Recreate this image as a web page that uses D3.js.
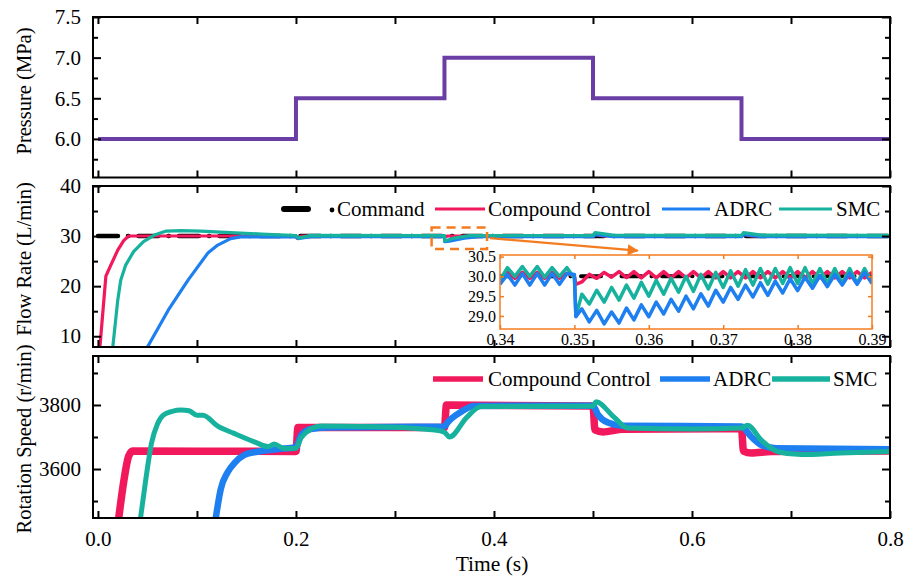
<!DOCTYPE html>
<html>
<head>
<meta charset="utf-8">
<script src="https://cdn.jsdelivr.net/npm/d3@7"></script>
<style>
  body { margin: 0; background: #fff; }
  svg, svg text { font-family: "Liberation Serif", "Times New Roman", serif; }
</style>
</head>
<body>
<div id="root"></div>
<script>
// ---- data ----
const seriesNames = ["Command", "Compound Control", "ADRC", "SMC"];

const pressure = [[0, 6.0], [0.2, 6.5], [0.35, 7.0], [0.5, 6.5], [0.65, 6.0], [0.8, 6.0]];

const flowCommand = [[0, 30], [0.8, 30]];
const flowCompound = [[0.002, 7.85], [0.008, 22], [0.013, 24.2], [0.02, 27.2], [0.026, 29.1], [0.031, 30.02],
  [0.2, 30.02], [0.201, 29.6], [0.206, 30.02], [0.35, 30.02], [0.3502, 29.8], [0.353, 30.02], [0.5, 30.02],
  [0.502, 30.4], [0.51, 30.02], [0.65, 30.02], [0.652, 30.4], [0.66, 30.02], [0.8, 30.02]];
const flowADRC = [[0.05, 7.85], [0.071, 15.2], [0.091, 21.2], [0.111, 26.6], [0.121, 28.2], [0.134, 29.5],
  [0.144, 29.85], [0.2, 29.88], [0.202, 29.5], [0.215, 29.88], [0.35, 29.88], [0.3502, 28.9], [0.355, 29.0],
  [0.37, 29.6], [0.385, 29.88], [0.5, 29.88], [0.503, 30.3], [0.52, 29.88], [0.65, 29.88], [0.653, 30.3],
  [0.67, 29.88], [0.8, 29.88]];
const flowSMC = [[0.015, 7.85], [0.02, 17.2], [0.023, 21.2], [0.028, 24.2], [0.036, 26.9], [0.046, 28.9],
  [0.057, 30.2], [0.069, 31.0], [0.084, 31.1], [0.104, 31.0], [0.134, 30.7], [0.165, 30.4], [0.195, 30.15],
  [0.2, 30.1], [0.203, 29.6], [0.215, 30.15], [0.35, 30.1], [0.3502, 29.0], [0.36, 29.6], [0.375, 30.1],
  [0.5, 30.15], [0.502, 30.7], [0.52, 30.2], [0.65, 30.15], [0.652, 30.7], [0.67, 30.2], [0.8, 30.15]];

// zoomed window 0.34 - 0.39 s
const insetCommand = [[0.34, 30], [0.39, 30]];
const insetCompound = [[0.340, 29.98], [0.341, 30.1], [0.342, 29.95], [0.343, 30.1], [0.344, 29.95], [0.345, 30.1],
  [0.346, 29.95], [0.347, 30.1], [0.348, 29.95], [0.349, 30.08], [0.350, 30.0], [0.3502, 29.8], [0.351, 29.86],
  [0.352, 30.05], [0.353, 29.95], [0.354, 30.1], [0.355, 29.98], [0.356, 30.12], [0.357, 29.97], [0.358, 30.12],
  [0.359, 29.96], [0.360, 30.12], [0.361, 29.96], [0.362, 30.12], [0.363, 29.96], [0.364, 30.12], [0.365, 29.96],
  [0.366, 30.12], [0.367, 29.96], [0.368, 30.12], [0.369, 29.96], [0.370, 30.12], [0.371, 29.96], [0.372, 30.12],
  [0.373, 29.96], [0.374, 30.12], [0.375, 29.96], [0.376, 30.12], [0.377, 29.96], [0.378, 30.12], [0.379, 29.96],
  [0.380, 30.12], [0.381, 29.96], [0.382, 30.12], [0.383, 29.96], [0.384, 30.12], [0.385, 29.96], [0.386, 30.12],
  [0.387, 29.96], [0.388, 30.12], [0.389, 29.96], [0.390, 30.1]];
const insetSMC = [[0.340, 29.9], [0.341, 30.22], [0.342, 30.0], [0.343, 30.25], [0.344, 30.0], [0.345, 30.25],
  [0.346, 29.98], [0.347, 30.22], [0.348, 30.0], [0.349, 30.22], [0.350, 29.95], [0.3502, 29.0], [0.351, 29.55],
  [0.352, 29.3], [0.353, 29.65], [0.354, 29.35], [0.355, 29.72], [0.356, 29.4], [0.357, 29.78], [0.358, 29.45],
  [0.359, 29.85], [0.360, 29.5], [0.361, 29.9], [0.362, 29.55], [0.363, 29.95], [0.364, 29.6], [0.365, 30.0],
  [0.366, 29.62], [0.367, 30.05], [0.368, 29.68], [0.369, 30.1], [0.370, 29.72], [0.371, 30.14], [0.372, 29.75],
  [0.373, 30.17], [0.374, 29.78], [0.375, 30.2], [0.376, 29.8], [0.377, 30.2], [0.378, 29.82], [0.379, 30.22],
  [0.380, 29.82], [0.381, 30.22], [0.382, 29.82], [0.383, 30.2], [0.384, 29.82], [0.385, 30.2], [0.386, 29.82],
  [0.387, 30.2], [0.388, 29.82], [0.389, 30.2], [0.390, 29.85]];
const insetADRC = [[0.340, 29.8], [0.341, 30.05], [0.342, 29.78], [0.343, 30.07], [0.344, 29.78], [0.345, 30.07],
  [0.346, 29.78], [0.347, 30.07], [0.348, 29.8], [0.349, 30.07], [0.350, 30.05], [0.3502, 28.98], [0.351, 29.18],
  [0.352, 28.85], [0.353, 29.14], [0.354, 28.8], [0.355, 29.1], [0.356, 28.82], [0.357, 29.2], [0.358, 28.9],
  [0.359, 29.28], [0.360, 28.98], [0.361, 29.35], [0.362, 29.05], [0.363, 29.42], [0.364, 29.12], [0.365, 29.5],
  [0.366, 29.18], [0.367, 29.56], [0.368, 29.25], [0.369, 29.65], [0.370, 29.35], [0.371, 29.72], [0.372, 29.42],
  [0.373, 29.78], [0.374, 29.48], [0.375, 29.84], [0.376, 29.52], [0.377, 29.88], [0.378, 29.58], [0.379, 29.94],
  [0.380, 29.64], [0.381, 29.98], [0.382, 29.7], [0.383, 30.02], [0.384, 29.74], [0.385, 30.05], [0.386, 29.78],
  [0.387, 30.08], [0.388, 29.8], [0.389, 30.1], [0.390, 29.82]];

const speedCompound = [[0.021, 3447], [0.026, 3560], [0.031, 3640], [0.035, 3656], [0.2, 3655], [0.202, 3730],
  [0.35, 3730], [0.352, 3800], [0.5, 3797], [0.502, 3722], [0.51, 3716], [0.53, 3724], [0.65, 3726],
  [0.652, 3656], [0.66, 3650], [0.68, 3655], [0.8, 3656]];
const speedADRC = [[0.119, 3447], [0.124, 3537], [0.131, 3590], [0.138, 3619], [0.148, 3644], [0.161, 3654],
  [0.181, 3662], [0.2, 3668], [0.205, 3704], [0.215, 3725], [0.23, 3730], [0.35, 3733], [0.353, 3745],
  [0.367, 3779], [0.38, 3797], [0.5, 3798], [0.505, 3770], [0.515, 3745], [0.53, 3735], [0.65, 3733],
  [0.66, 3700], [0.67, 3675], [0.685, 3665], [0.8, 3662]];
const speedSMC = [[0.043, 3447], [0.048, 3560], [0.054, 3680], [0.06, 3740], [0.066, 3768], [0.075, 3780],
  [0.084, 3784], [0.092, 3782], [0.1, 3768], [0.106, 3768], [0.121, 3734], [0.137, 3712], [0.158, 3685],
  [0.172, 3670], [0.178, 3678], [0.188, 3664], [0.2, 3665], [0.205, 3697], [0.225, 3734], [0.28, 3732],
  [0.34, 3722], [0.35, 3715], [0.355, 3700], [0.373, 3763], [0.387, 3795], [0.5, 3797], [0.503, 3810],
  [0.521, 3763], [0.535, 3728], [0.6, 3725], [0.65, 3728], [0.656, 3737], [0.67, 3690], [0.687, 3654],
  [0.71, 3645], [0.75, 3650], [0.8, 3655]];

const xTickLabels = [0.0, 0.2, 0.4, 0.6, 0.8];
const xTicksAll = [0, 0.1, 0.2, 0.3, 0.4, 0.5, 0.6, 0.7, 0.8];
const pressureTicks = [6.0, 6.5, 7.0, 7.5];
const pressureMinor = [5.75, 6.25, 6.75, 7.25];
const flowTicks = [10, 20, 30, 40];
const flowMinor = [15, 25, 35];
const speedTicks = [3600, 3800];
const speedMinor = [3500, 3700, 3900];
const insetXTicks = [0.34, 0.35, 0.36, 0.37, 0.38, 0.39];
const insetYTicks = [29.0, 29.5, 30.0, 30.5];
const zoomBox = { t0: 0.337, t1: 0.393, v0: 27.4, v1: 31.7 };

const colors = { "Command": "#000", "Compound Control": "#f2185c", "ADRC": "#1d7ff0", "SMC": "#17b29e" };
const purple = "#6a3ea4";
const orange = "#f47c20";
const serif = "'Liberation Serif', 'Times New Roman', serif";

// ---- layout ----
const width = 906, height = 577;
const left = 93, right = 890;

const svg = d3.select("#root").append("svg")
  .attr("width", width).attr("height", height)
  .attr("font-family", serif);

const x = d3.scaleLinear().domain([-0.005, 0.8]).range([left, right]);

function styleAxes(sel, tickColor, tickWidth, fontSize) {
  sel.selectAll(".domain").remove();
  sel.selectAll("g").attr("font-family", serif).attr("font-size", fontSize);
  sel.selectAll(".tick line").attr("stroke", tickColor).attr("stroke-width", tickWidth);
  sel.selectAll(".tick text").attr("fill", "#000");
}

function makePanel(id, y, major, minor, fmt, title, titleY) {
  const [bottom, top] = y.range();
  const g = svg.append("g").attr("id", id);

  g.append("clipPath").attr("id", id + "-clip")
    .append("rect").attr("x", left).attr("y", top).attr("width", right - left).attr("height", bottom - top);

  const plot = g.append("g").attr("clip-path", `url(#${id}-clip)`);

  const axes = g.append("g");
  axes.append("g").attr("transform", `translate(0,${bottom})`)
    .call(d3.axisBottom(x).tickValues(xTicksAll).tickSize(-7).tickFormat(""));
  axes.append("g").attr("transform", `translate(0,${top})`)
    .call(d3.axisTop(x).tickValues(xTicksAll).tickSize(-7).tickFormat(""));
  axes.append("g").attr("transform", `translate(${left},0)`)
    .call(d3.axisLeft(y).tickValues(major).tickSize(-8).tickPadding(12).tickFormat(fmt));
  axes.append("g").attr("transform", `translate(${left},0)`)
    .call(d3.axisLeft(y).tickValues(minor).tickSize(-5).tickFormat(""));
  axes.append("g").attr("transform", `translate(${right},0)`)
    .call(d3.axisRight(y).tickValues(major).tickSize(-8).tickFormat(""));
  axes.append("g").attr("transform", `translate(${right},0)`)
    .call(d3.axisRight(y).tickValues(minor).tickSize(-5).tickFormat(""));
  styleAxes(axes, "#000", 2, 21);

  g.append("rect").attr("x", left).attr("y", top).attr("width", right - left).attr("height", bottom - top)
    .attr("fill", "none").attr("stroke", "#000").attr("stroke-width", 2);

  g.append("text")
    .attr("transform", `translate(24,${titleY}) rotate(-90)`)
    .attr("text-anchor", "middle").attr("dy", "0.35em")
    .attr("font-size", 20.5).text(title);

  return { g, plot, axes };
}

function lineFor(xs, ys) {
  return d3.line().x(d => xs(d[0])).y(d => ys(d[1]));
}

// ---- top panel: pressure ----
const yP = d3.scaleLinear().domain([5.525, 7.5]).range([177.5, 17]);
const pP = makePanel("pressure", yP, pressureTicks, pressureMinor, d3.format(".1f"), "Pressure (MPa)", 91);
pP.plot.append("path").datum(pressure)
  .attr("d", lineFor(x, yP).curve(d3.curveStepAfter))
  .attr("fill", "none").attr("stroke", purple).attr("stroke-width", 4);

// ---- middle panel: flow rate ----
const yF = d3.scaleLinear().domain([7.85, 40]).range([347, 186]);
const pF = makePanel("flow", yF, flowTicks, flowMinor, d3.format("d"), "Flow Rate (L/min)", 259);
const lF = lineFor(x, yF);
pF.plot.append("path").datum(flowCommand).attr("d", lF)
  .attr("fill", "none").attr("stroke", "#000").attr("stroke-width", 4.5)
  .attr("stroke-dasharray", "20 10 0.5 10").attr("stroke-linecap", "round");
[["Compound Control", flowCompound], ["ADRC", flowADRC], ["SMC", flowSMC]].forEach(([name, data]) => {
  pF.plot.append("path").datum(data).attr("d", lF)
    .attr("fill", "none").attr("stroke", colors[name]).attr("stroke-width", 3.2)
    .attr("stroke-linejoin", "round");
});

// legend (flow)
const legF = pF.g.append("g").attr("font-size", 21);
legF.append("line").attr("x1", 284).attr("x2", 308).attr("y1", 209).attr("y2", 209)
  .attr("stroke", "#000").attr("stroke-width", 6).attr("stroke-linecap", "round");
legF.append("circle").attr("cx", 332).attr("cy", 210).attr("r", 2.4).attr("fill", "#000");
legF.append("text").attr("x", 337).attr("y", 216).text(seriesNames[0]);
[[435, 485, 488, "Compound Control"], [662, 710, 714, "ADRC"], [779, 832, 836, "SMC"]].forEach(([a, b, t, name]) => {
  legF.append("line").attr("x1", a).attr("x2", b).attr("y1", 209).attr("y2", 209)
    .attr("stroke", colors[name]).attr("stroke-width", 3);
  legF.append("text").attr("x", t).attr("y", 216).text(name);
});

// zoom box + arrow
const xi = d3.scaleLinear().domain([0.34, 0.39]).range([500, 872]);
const yi = d3.scaleLinear().domain([28.67, 30.54]).range([329, 255]);

pF.g.append("rect")
  .attr("x", x(zoomBox.t0)).attr("y", yF(zoomBox.v1))
  .attr("width", x(zoomBox.t1) - x(zoomBox.t0)).attr("height", yF(zoomBox.v0) - yF(zoomBox.v1))
  .attr("fill", "none").attr("stroke", orange).attr("stroke-width", 2.5).attr("stroke-dasharray", "9 6");

svg.append("defs").append("marker").attr("id", "arrow")
  .attr("viewBox", "0 0 10 10").attr("refX", 9).attr("refY", 5)
  .attr("markerWidth", 6).attr("markerHeight", 5).attr("orient", "auto")
  .attr("markerUnits", "strokeWidth")
  .append("path").attr("d", "M0,0 L10,5 L0,10 z").attr("fill", orange);

pF.g.append("line")
  .attr("x1", x(zoomBox.t1) + 3).attr("y1", yF(29.6))
  .attr("x2", xi(0.3585)).attr("y2", yi(30.65))
  .attr("stroke", orange).attr("stroke-width", 2.2).attr("marker-end", "url(#arrow)");

// inset
const inset = svg.append("g").attr("id", "inset");
inset.append("rect").attr("x", 500).attr("y", 255).attr("width", 372).attr("height", 74).attr("fill", "#fff");
inset.append("clipPath").attr("id", "inset-clip")
  .append("rect").attr("x", 500).attr("y", 255).attr("width", 372).attr("height", 74);
const iplot = inset.append("g").attr("clip-path", "url(#inset-clip)");
const lI = lineFor(xi, yi);
iplot.append("path").datum(insetCommand).attr("d", lI)
  .attr("fill", "none").attr("stroke", "#000").attr("stroke-width", 4)
  .attr("stroke-dasharray", "20 10 0.5 10").attr("stroke-linecap", "round");
[["Compound Control", insetCompound], ["SMC", insetSMC], ["ADRC", insetADRC]].forEach(([name, data]) => {
  iplot.append("path").datum(data).attr("d", lI)
    .attr("fill", "none").attr("stroke", colors[name]).attr("stroke-width", 3.5)
    .attr("stroke-linejoin", "round");
});
const iaxes = inset.append("g");
iaxes.append("g").attr("transform", "translate(0,329)")
  .call(d3.axisBottom(xi).tickValues(insetXTicks).tickSize(-4).tickPadding(5).tickFormat(d3.format(".2f")));
iaxes.append("g").attr("transform", "translate(0,255)")
  .call(d3.axisTop(xi).tickValues(insetXTicks).tickSize(-4).tickFormat(""));
iaxes.append("g").attr("transform", "translate(500,0)")
  .call(d3.axisLeft(yi).tickValues(insetYTicks).tickSize(-4).tickPadding(4).tickFormat(d3.format(".1f")));
iaxes.append("g").attr("transform", "translate(872,0)")
  .call(d3.axisRight(yi).tickValues(insetYTicks).tickSize(-4).tickFormat(""));
styleAxes(iaxes, orange, 1.5, 16);
inset.append("rect").attr("x", 500).attr("y", 255).attr("width", 372).attr("height", 74)
  .attr("fill", "none").attr("stroke", orange).attr("stroke-width", 1.5);

// ---- bottom panel: rotation speed ----
const yS = d3.scaleLinear().domain([3447, 3953]).range([518, 356]);
const pS = makePanel("speed", yS, speedTicks, speedMinor, d3.format("d"), "Rotation Speed (r/min)", 439);
const lS = lineFor(x, yS).curve(d3.curveMonotoneX);
[["Compound Control", speedCompound, 7.5], ["ADRC", speedADRC, 6.5], ["SMC", speedSMC, 5]].forEach(([name, data, w]) => {
  pS.plot.append("path").datum(data).attr("d", lS)
    .attr("fill", "none").attr("stroke", colors[name]).attr("stroke-width", w)
    .attr("stroke-linejoin", "round");
});

// x tick labels + title
const xLab = pS.axes.append("g").attr("transform", "translate(0,518)")
  .call(d3.axisBottom(x).tickValues(xTickLabels).tickSize(0).tickPadding(13).tickFormat(d3.format(".1f")));
styleAxes(xLab, "#000", 0, 21);

svg.append("text").attr("x", 492).attr("y", 571).attr("text-anchor", "middle")
  .attr("font-size", 21.5).text("Time (s)");

// legend (speed)
const legS = pS.g.append("g").attr("font-size", 21);
[[433, 483, 488, "Compound Control"], [660, 710, 713, "ADRC"], [772, 830, 833, "SMC"]].forEach(([a, b, t, name]) => {
  legS.append("line").attr("x1", a).attr("x2", b).attr("y1", 379).attr("y2", 379)
    .attr("stroke", colors[name]).attr("stroke-width", 5.5);
  legS.append("text").attr("x", t).attr("y", 386).text(name);
});
</script>
</body>
</html>
